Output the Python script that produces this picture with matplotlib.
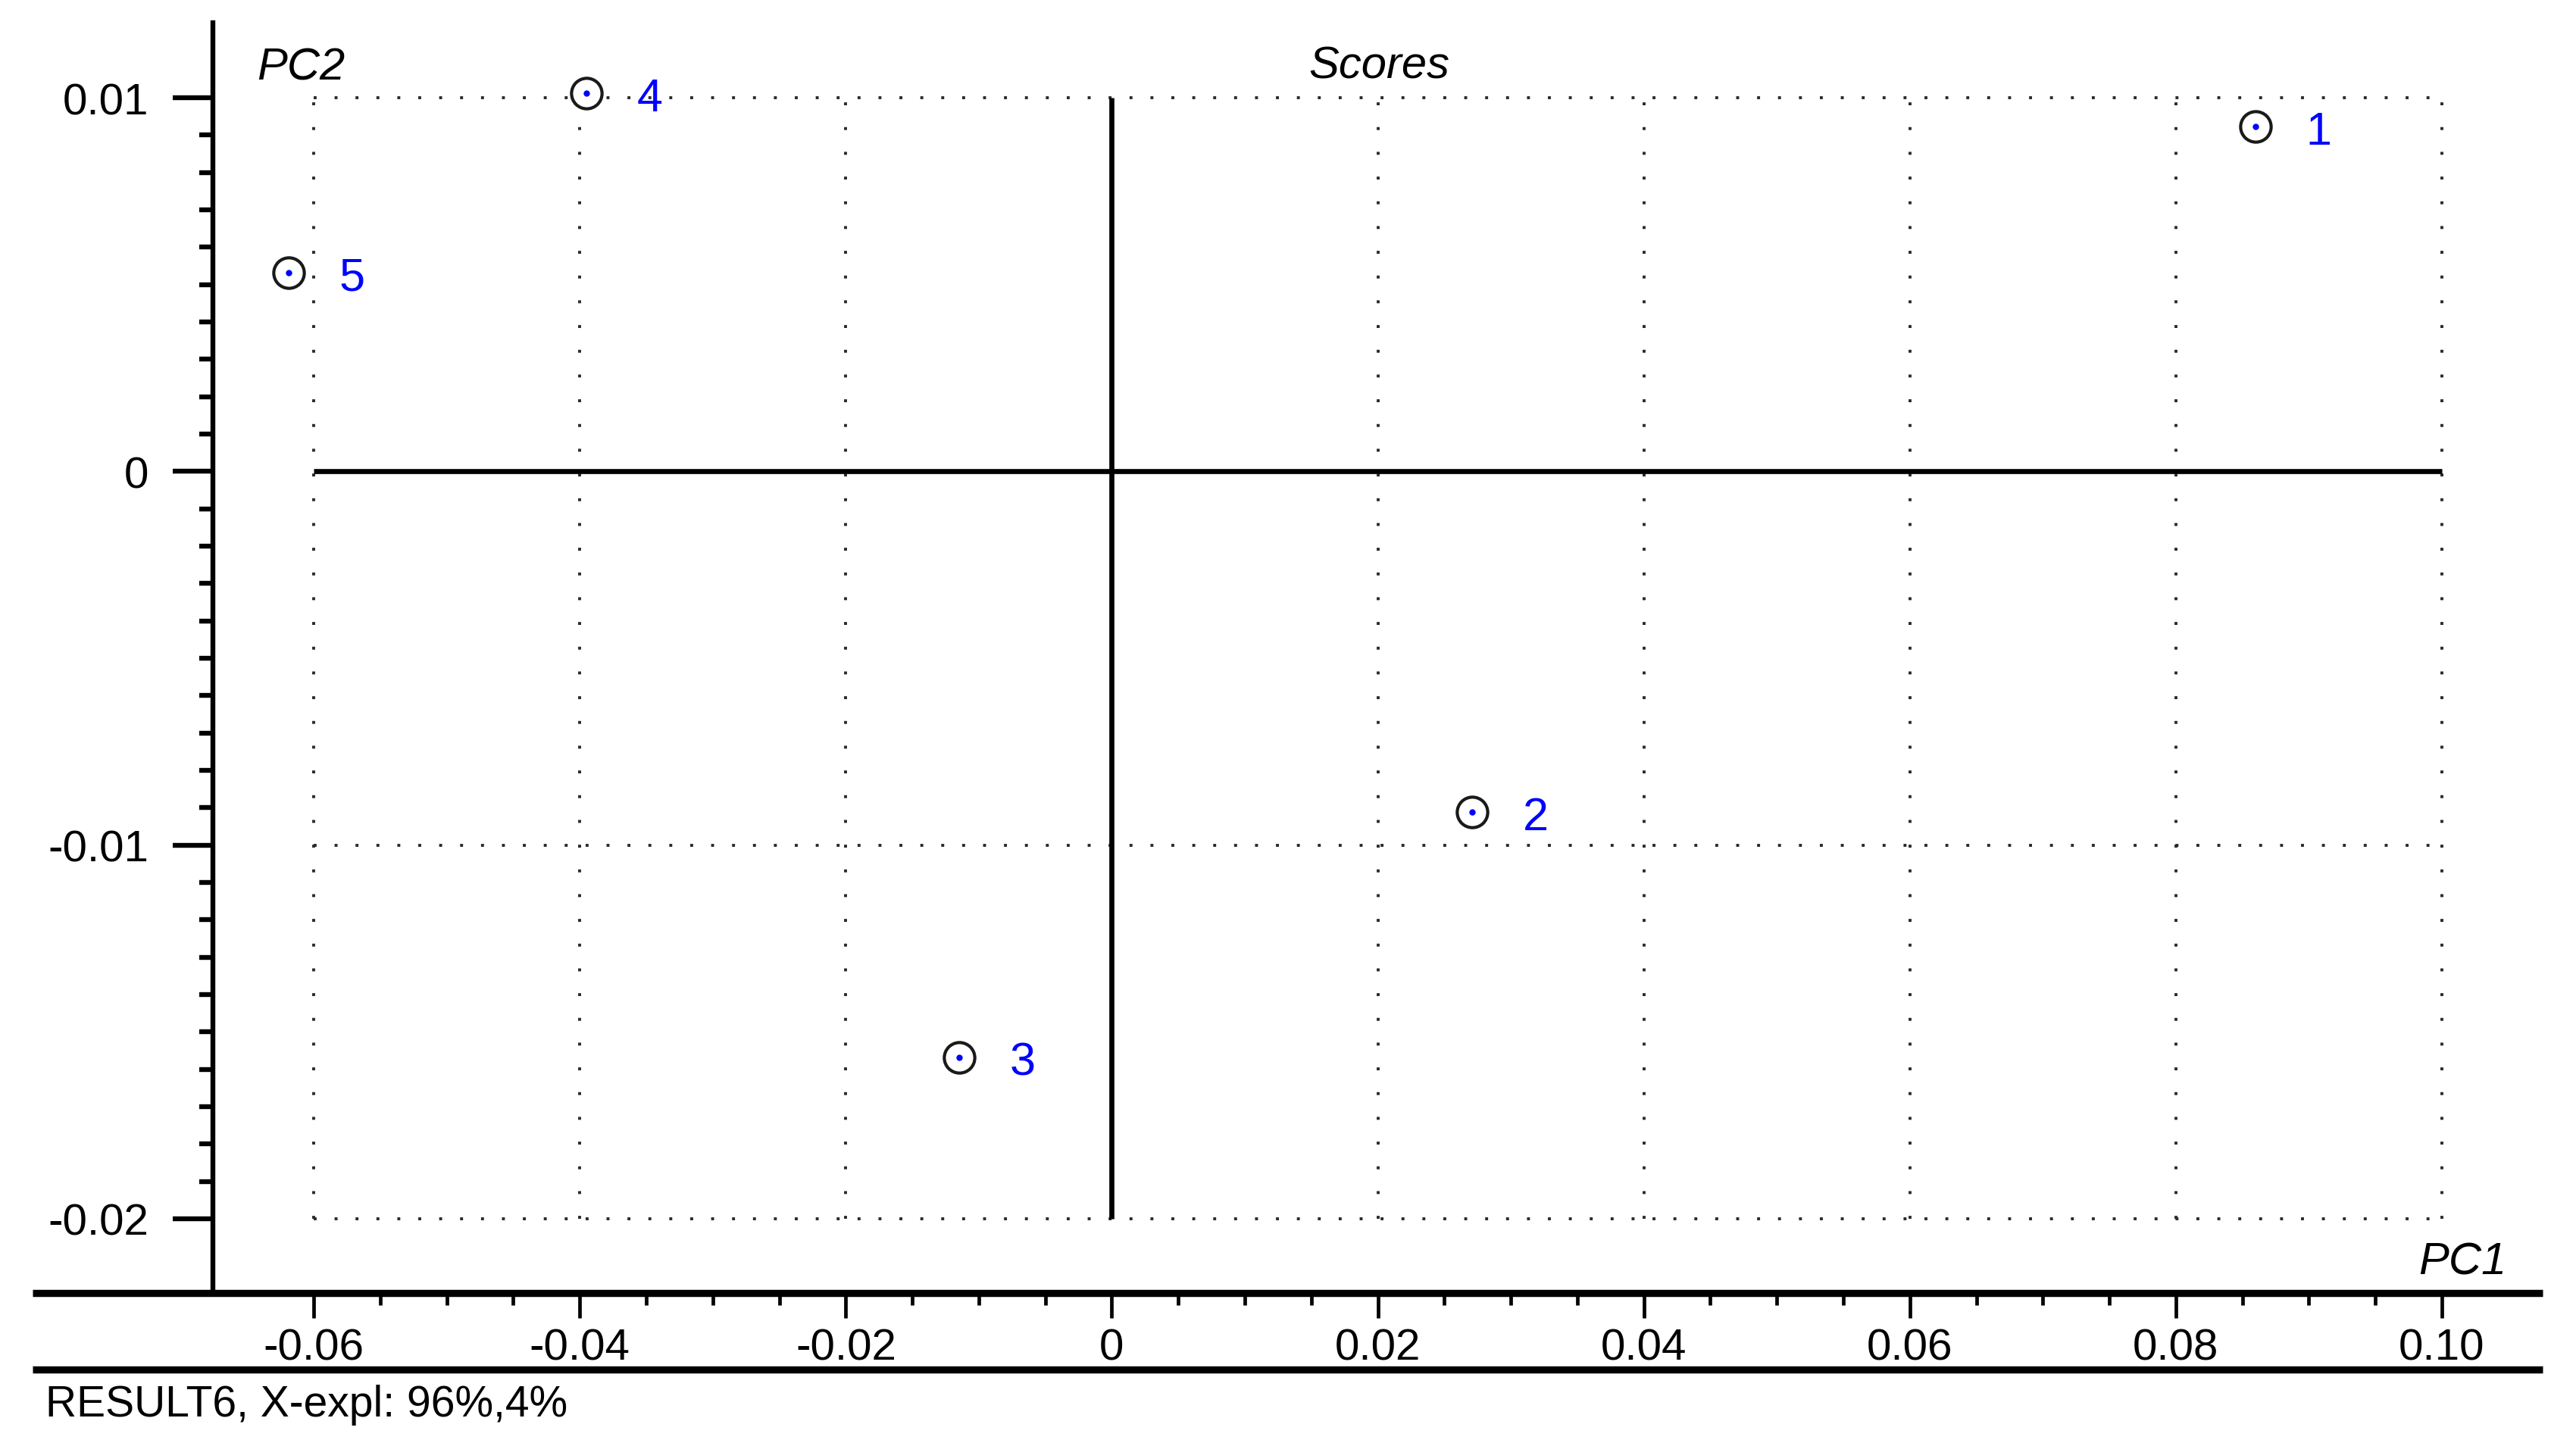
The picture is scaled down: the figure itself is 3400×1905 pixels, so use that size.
import matplotlib
matplotlib.use('Agg')
import matplotlib.pyplot as plt
from matplotlib.lines import Line2D
import numpy as np

plt.rcParams['font.family'] = ['Liberation Sans', 'DejaVu Sans']

# ---- data ----
labels = ['1', '2', '3', '4', '5']
pc1 = [0.0860, 0.0271, -0.01145, -0.0395, -0.0619]
pc2 = [0.00922, -0.00912, -0.01568, 0.01013, 0.00532]
xticks = [-0.06, -0.04, -0.02, 0.0, 0.02, 0.04, 0.06, 0.08, 0.10]
xticklabels = ['-0.06', '-0.04', '-0.02', '0', '0.02', '0.04', '0.06', '0.08', '0.10']
yticks = [0.01, 0.0, -0.01, -0.02]
yticklabels = ['0.01', '0', '-0.01', '-0.02']
title = 'Scores'
xlabel = 'PC1'
ylabel = 'PC2'
footer = 'RESULT6, X-expl: 96%,4%'

W, H = 3400, 1906
fig = plt.figure(figsize=(W / 100, H / 100), dpi=100)


def fx(px):
    return px / W


def fy(py):
    return 1 - py / H


ax = fig.add_axes([fx(43), fy(1707.5), fx(3356) - fx(43), fy(31) - fy(1707.5)])
ax.set_xlim(-0.08114, 0.10758)
ax.set_ylim(-0.021978, 0.012007)
for s in ['top', 'right']:
    ax.spines[s].set_visible(False)
ax.spines['left'].set_position(('data', -0.06758))
ax.spines['left'].set_linewidth(4.6)
ax.spines['bottom'].set_linewidth(6.8)
ax.spines['bottom'].set_capstyle('butt')

# dotted grid
gx = [x for x in xticks if x != 0]
gy = [y for y in yticks if y != 0]
ax.vlines(gx, min(yticks), max(yticks), colors='#2a2a2a', lw=2.8,
          linestyles=[(0, (1, 7.4))], zorder=1)
ax.hlines(gy, min(xticks), max(xticks), colors='#2a2a2a', lw=2.8,
          linestyles=[(0, (1, 6.1))], zorder=1)
# solid zero lines
ax.hlines(0, min(xticks), max(xticks), colors='black', lw=4.8, zorder=2)
ax.vlines(0, min(yticks), max(yticks), colors='black', lw=4.8, zorder=2)

# points
ax.plot(pc1, pc2, 'o', ms=29, mfc='white', mec='#1a1a1a', mew=3.0,
        ls='none', zorder=3)
ax.plot(pc1, pc2, 'o', ms=6, color='#0000ff', mew=0, ls='none', zorder=4)
for lab, x, y in zip(labels, pc1, pc2):
    ax.annotate(lab, (x, y), xytext=(48, -16.5), textcoords='offset points',
                ha='left', va='baseline', color='#0000ff', fontsize=44, zorder=5)

# ticks
ax.set_xticks(xticks)
ax.set_xticklabels(xticklabels)
ax.set_xticks(np.arange(-0.06, 0.1001, 0.005), minor=True)
ax.set_yticks(yticks)
ax.set_yticklabels(yticklabels)
ax.set_yticks(np.arange(-0.02, 0.01001, 0.001), minor=True)
ax.tick_params(axis='x', which='major', direction='out', length=24, width=3.4,
               pad=9, labelsize=42)
ax.tick_params(axis='x', which='minor', direction='out', length=11.5, width=3.4)
ax.tick_params(axis='y', which='major', direction='out', length=38, width=4.6,
               pad=23, labelsize=42)
ax.tick_params(axis='y', which='minor', direction='out', length=13, width=4.6)

# texts
fig.text(fx(339), fy(105), ylabel, style='italic', fontsize=43, ha='left', va='baseline')
fig.text(fx(1820), fy(103), title, style='italic', fontsize=43, ha='center', va='baseline')
fig.text(fx(3192), fy(1683), xlabel, style='italic', fontsize=43, ha='left', va='baseline')
fig.text(fx(60), fy(1870), footer, fontsize=41, ha='left', va='baseline')

# second bottom rule
fig.add_artist(Line2D([fx(43), fx(3356)], [fy(1809), fy(1809)],
                      transform=fig.transFigure, color='black', lw=6.8,
                      solid_capstyle='butt'))

fig.savefig('out.png', dpi=100)
